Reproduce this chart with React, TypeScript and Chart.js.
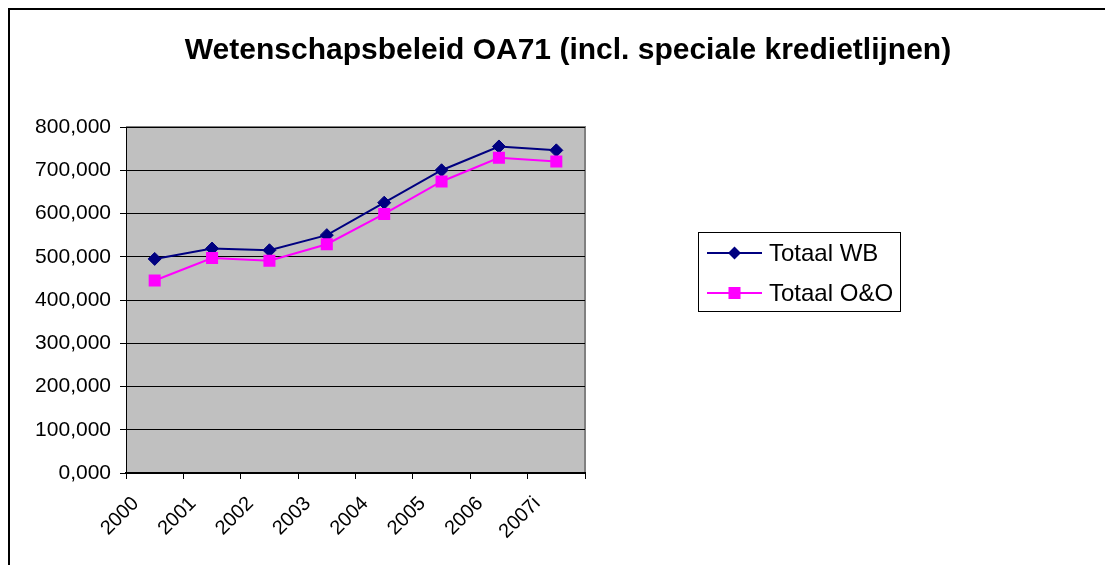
import React, { useEffect, useRef } from 'react';
import { Chart, registerables } from 'chart.js';

Chart.register(...registerables);

const titleText = 'Wetenschapsbeleid OA71 (incl. speciale kredietlijnen)';
const categories = ['2000', '2001', '2002', '2003', '2004', '2005', '2006', '2007i'];
const seriesLabels = ['Totaal WB', 'Totaal O&O'];
const totaalWB = [495, 519, 515, 550, 625, 700, 755, 746];
const totaalOO = [445, 497, 491, 529, 599, 674, 729, 720];
const yMin = 0;
const yMax = 800;
const yStep = 100;

const FONT = "'Liberation Sans', Arial, sans-serif";

const plotBg = {
  id: 'plotBg',
  beforeDraw(chart: any) {
    const { ctx, chartArea: a } = chart;
    ctx.save();
    ctx.fillStyle = '#C0C0C0';
    ctx.fillRect(a.left, a.top, a.right - a.left, a.bottom - a.top);
    ctx.strokeStyle = '#808080';
    ctx.lineWidth = 2;
    ctx.beginPath();
    ctx.moveTo(a.left, a.top);
    ctx.lineTo(a.right, a.top);
    ctx.lineTo(a.right, a.bottom);
    ctx.stroke();
    ctx.restore();
  },
};

function drawMarker(ctx: CanvasRenderingContext2D, style: string, x: number, y: number, r: number, color: string) {
  ctx.fillStyle = color;
  ctx.beginPath();
  if (style === 'rectRot') {
    ctx.moveTo(x - r, y);
    ctx.lineTo(x, y - r);
    ctx.lineTo(x + r, y);
    ctx.lineTo(x, y + r);
    ctx.closePath();
  } else {
    const s = r * Math.SQRT1_2;
    ctx.rect(x - s, y - s, 2 * s, 2 * s);
  }
  ctx.fill();
}

const boxLegend = {
  id: 'boxLegend',
  afterDraw(chart: any) {
    const ctx: CanvasRenderingContext2D = chart.ctx;
    const L = { x: 688, y: 222, w: 202, h: 79, rows: [21, 61], x0: 9, x1: 64, tx: 71 };
    ctx.save();
    ctx.fillStyle = '#ffffff';
    ctx.fillRect(L.x, L.y, L.w, L.h);
    ctx.strokeStyle = '#000000';
    ctx.lineWidth = 1;
    ctx.strokeRect(L.x + 0.5, L.y + 0.5, L.w, L.h);
    chart.data.datasets.forEach((ds: any, i: number) => {
      const y = L.y + L.rows[i];
      ctx.strokeStyle = ds.borderColor;
      ctx.lineWidth = 2;
      ctx.beginPath();
      ctx.moveTo(L.x + L.x0, y);
      ctx.lineTo(L.x + L.x1, y);
      ctx.stroke();
      drawMarker(ctx, ds.pointStyle, L.x + (L.x0 + L.x1) / 2, y, ds.pointRadius, ds.pointBackgroundColor);
      ctx.fillStyle = '#000000';
      ctx.font = `24px ${FONT}`;
      ctx.textAlign = 'left';
      ctx.textBaseline = 'middle';
      ctx.fillText(ds.label, L.x + L.tx, y + 1);
    });
    ctx.restore();
  },
};

export default function App() {
  const ref = useRef<HTMLCanvasElement | null>(null);

  useEffect(() => {
    if (!ref.current) return;
    const chart = new Chart(ref.current, {
      type: 'line',
      data: {
        labels: categories,
        datasets: [
          {
            label: seriesLabels[0],
            data: totaalWB,
            borderColor: '#000080',
            backgroundColor: '#000080',
            borderWidth: 2,
            pointStyle: 'rectRot',
            pointRadius: 6.5,
            pointBackgroundColor: '#000080',
            pointBorderColor: '#000080',
            pointBorderWidth: 1,
            tension: 0,
            order: 1,
          },
          {
            label: seriesLabels[1],
            data: totaalOO,
            borderColor: '#FF00FF',
            backgroundColor: '#FF00FF',
            borderWidth: 2,
            pointStyle: 'rect',
            pointRadius: 8.5,
            pointBackgroundColor: '#FF00FF',
            pointBorderColor: '#FF00FF',
            pointBorderWidth: 0,
            tension: 0,
            order: 0,
          },
        ],
      },
      options: {
        responsive: false,
        animation: false,
        layout: { padding: 0 },
        plugins: {
          legend: { display: false },
          tooltip: { enabled: false },
          title: {
            display: true,
            text: titleText,
            color: '#000000',
            font: { family: FONT, size: 30, weight: 'bold', lineHeight: 1.2 },
            padding: { top: 23, bottom: 58 },
          },
        },
        scales: {
          x: {
            type: 'category',
            offset: true,
            afterFit(scale: any) {
              scale.height = 92;
            },
            grid: {
              display: true,
              offset: true,
              drawOnChartArea: false,
              drawTicks: true,
              tickLength: 6,
              tickColor: '#000000',
              color: '#000000',
            },
            border: { display: true, color: '#000000', width: 2 },
            ticks: {
              color: '#000000',
              font: { family: FONT, size: 20 },
              minRotation: 45,
              maxRotation: 45,
              autoSkip: false,
              padding: 13,
              labelOffset: -19,
            },
          },
          y: {
            min: yMin,
            max: yMax,
            afterFit(scale: any) {
              scale.width = 116;
            },
            grid: {
              color: '#000000',
              lineWidth: 1,
              drawTicks: true,
              tickLength: 6,
              tickColor: '#000000',
            },
            border: { display: true, color: '#000000', width: 1 },
            ticks: {
              stepSize: yStep,
              color: '#000000',
              font: { family: FONT, size: 21 },
              padding: 9,
              callback: (v: any) => Number(v).toFixed(3).replace('.', ','),
            },
          },
          spacer: {
            type: 'linear',
            position: 'right',
            display: true,
            afterFit(scale: any) {
              scale.width = 541;
            },
            grid: { display: false, drawTicks: false },
            border: { display: false },
            ticks: { display: false },
          },
        },
      },
      plugins: [plotBg, boxLegend],
    });
    return () => chart.destroy();
  }, []);

  return (
    <div
      style={{
        width: 1103,
        height: 555,
        borderTop: '2px solid #000',
        borderLeft: '2px solid #000',
        overflow: 'hidden',
        background: '#fff',
      }}
    >
      <canvas ref={ref} width={1116} height={555} style={{ display: 'block' }} />
    </div>
  );
}
